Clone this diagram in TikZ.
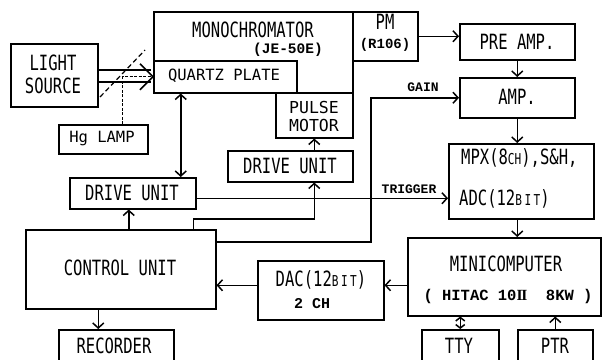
\documentclass[tikz,border=0pt]{standalone}
\usepackage{fontspec}
\usetikzlibrary{arrows.meta}
\newfontfamily\cond[FakeStretch=0.74]{DejaVu Sans Mono}
\newfontfamily\smono{DejaVu Sans Mono}
\newfontfamily\cour{Liberation Mono}
\newfontfamily\rserif{Liberation Serif}
\newcommand\smc[1]{{\fontsize{15}{15}\selectfont #1}}
\tikzset{
  box/.style={draw, line width=1.5pt, inner sep=0pt, anchor=north west},
  lbl/.style={inner sep=0pt, font=\cond\fontsize{21}{23}\selectfont, align=center},
  sm/.style={inner sep=0pt, font=\smono\fontsize{15.5}{17}\selectfont, align=center},
  cr/.style={inner sep=0pt, font=\cour\bfseries\fontsize{14.5}{16}\selectfont},
  arr/.style={line width=1.5pt, -{Straight Barb[length=5pt,width=11pt,line width=1.5pt]}},
  darr/.style={line width=1.5pt, {Straight Barb[length=5pt,width=11pt,line width=1.5pt]}-{Straight Barb[length=5pt,width=11pt,line width=1.5pt]}},
  sdarr/.style={line width=1.5pt, {Straight Barb[length=3.5pt,width=9pt,line width=1.5pt]}-{Straight Barb[length=3.5pt,width=9pt,line width=1.5pt]}},
  ln/.style={line width=1.5pt},
  dsh/.style={line width=1.2pt, dash pattern=on 3pt off 1.5pt},
}
\begin{document}
\begin{tikzpicture}[x=1pt,y=-1pt]
\path[use as bounding box, clip] (0,0) rectangle (602,359);
\fill[white] (0,0) rectangle (602,359);
% boxes
\node[box, minimum width=87pt, minimum height=63pt] (ls) at (10,43) {};
\node[box, minimum width=199pt, minimum height=81pt] (mono) at (153,11) {};
\node[box, minimum width=143pt, minimum height=32pt] (qp) at (153,60) {};
\node[box, minimum width=65pt, minimum height=49pt] (pm) at (352,11) {};
\node[box, minimum width=77pt, minimum height=45pt] (pmot) at (275,92) {};
\node[box, minimum width=89pt, minimum height=29pt] (hg) at (58,124) {};
\node[box, minimum width=115pt, minimum height=36pt] (pre) at (459,23) {};
\node[box, minimum width=115pt, minimum height=40pt] (amp) at (459,77) {};
\node[box, minimum width=145pt, minimum height=75pt] (mpx) at (448,143) {};
\node[box, minimum width=125pt, minimum height=31pt] (du2) at (227,150) {};
\node[box, minimum width=126pt, minimum height=31pt] (du1) at (69,177) {};
\node[box, minimum width=190pt, minimum height=79pt] (cu) at (25,229) {};
\node[box, minimum width=126pt, minimum height=59pt] (dac) at (257,260) {};
\node[box, minimum width=193pt, minimum height=78pt] (mini) at (407,237) {};
\node[box, minimum width=115pt, minimum height=45pt] (rec) at (58,329) {};
\node[box, minimum width=77pt, minimum height=45pt] (tty) at (421,329) {};
\node[box, minimum width=75pt, minimum height=45pt] (ptr) at (517,329) {};
% texts
\node[lbl] (tls) at (53,74) {LIGHT\\SOURCE};
\node[lbl] (tmono) at (253,30) {MONOCHROMATOR};
\node[cr] (tje) at (288,50) {(JE-50E)};
\node[sm] (tqp) at (224,76) {QUARTZ PLATE};
\node[lbl] (tpm) at (385,22) {PM};
\node[cr, font=\cour\bfseries\fontsize{14}{16}\selectfont] (tr) at (385,45) {(R106)};
\node[sm, font=\smono\fontsize{16.5}{17}\selectfont] (tpu) at (314,107) {PULSE};
\node[sm, font=\smono\fontsize{16.5}{17}\selectfont] (tmo) at (314,125) {MOTOR};
\node[sm] (thg) at (102,139) {Hg LAMP};
\node[lbl] (tpre) at (517,42) {PRE AMP.};
\node[lbl] (tamp) at (517,97) {AMP.};
\node[lbl, anchor=west] (tmpx) at (461,158) {MPX(8\smc{CH}),S\&H,};
\node[lbl, anchor=west] (tadc) at (459,199) {ADC(12\smc{B\,I\,T})};
\node[lbl] (tdu2) at (290,166) {DRIVE UNIT};
\node[lbl] (tdu1) at (132,193) {DRIVE UNIT};
\node[lbl] (tcu) at (120,268) {CONTROL UNIT};
\node[lbl] (tdac) at (321,280) {DAC(12\smc{B\,I\,T})};
\node[cr, font=\cour\bfseries\fontsize{15}{16}\selectfont] (t2ch) at (312,304) {2 CH};
\node[lbl] (tmini) at (506,264) {MINICOMPUTER};
\node[cr, font=\cour\bfseries\fontsize{15.5}{16}\selectfont] (thit) at (508,296) {( HITAC 10{\rserif\bfseries I\kern-1.2ptI}\ \ 8KW )};
\node[lbl] (trec) at (114,346) {RECORDER};
\node[lbl] (ttty) at (459,346) {TTY};
\node[lbl] (tptr) at (555,346) {PTR};
\node[cr, font=\cour\bfseries\fontsize{13}{14}\selectfont] (tgain) at (423,87) {GAIN};
\node[cr, font=\cour\bfseries\fontsize{13}{14}\selectfont] (ttrig) at (409,189) {TRIGGER};
% connectors
\draw[arr] (pm.east) -- (pm.east -| pre.west);
\draw[arr] (pre.south) -- (amp.north);
\draw[arr] (amp.south) -- (amp.south |- mpx.north);
\draw[arr] (mpx.south -| amp.south) -- (mini.north -| amp.south);
\coordinate (dd) at ([yshift=5pt]dac.west);
\draw[arr] (dd -| mini.west) -- (dac.east |- dd);
\draw[arr] (dd) -- (dd -| cu.east);
\draw[arr] ([xshift=-18pt]rec.north |- cu.south) -- ([xshift=-18pt]rec.north);
\draw[arr] ([xshift=-4pt]du1.south |- cu.north) -- ([xshift=-4pt]du1.south);
\draw[darr] ([xshift=-44.5pt]qp.south) -- ([xshift=-44.5pt]qp.south |- du1.north);
\draw[arr] (pmot.south |- du2.north) -- (pmot.south);
\draw[arr] ([xshift=-23pt]cu.north east) -- ++(0,-10) -| (pmot.south |- du2.south);
\draw[arr] ([yshift=-5pt]du1.east) -- ([yshift=-5pt]du1.east -| mpx.west);
\draw[arr] ([yshift=-13pt]cu.north east) -| ([xshift=-88pt]amp.west) -- (amp.west);
\draw[sdarr] (tty.north) -- (tty.north |- mini.south);
\draw[arr] (ptr.north) -- (ptr.north |- mini.south);
% light path
\draw[ln] ([yshift=5.5pt]ls.east) -- ++(52,0);
\draw[ln] ([yshift=-6.5pt]ls.east) -- ++(52,0);
\draw[ln] (qp.west) ++(-13,-13) -- (qp.west) -- ++(-13,13);
\draw[dsh] ([xshift=19.5pt]hg.north) |- (qp.west);
\draw[dsh, dash pattern=on 5pt off 3pt] (100,97) -- (145,50);
\end{tikzpicture}
\end{document}
